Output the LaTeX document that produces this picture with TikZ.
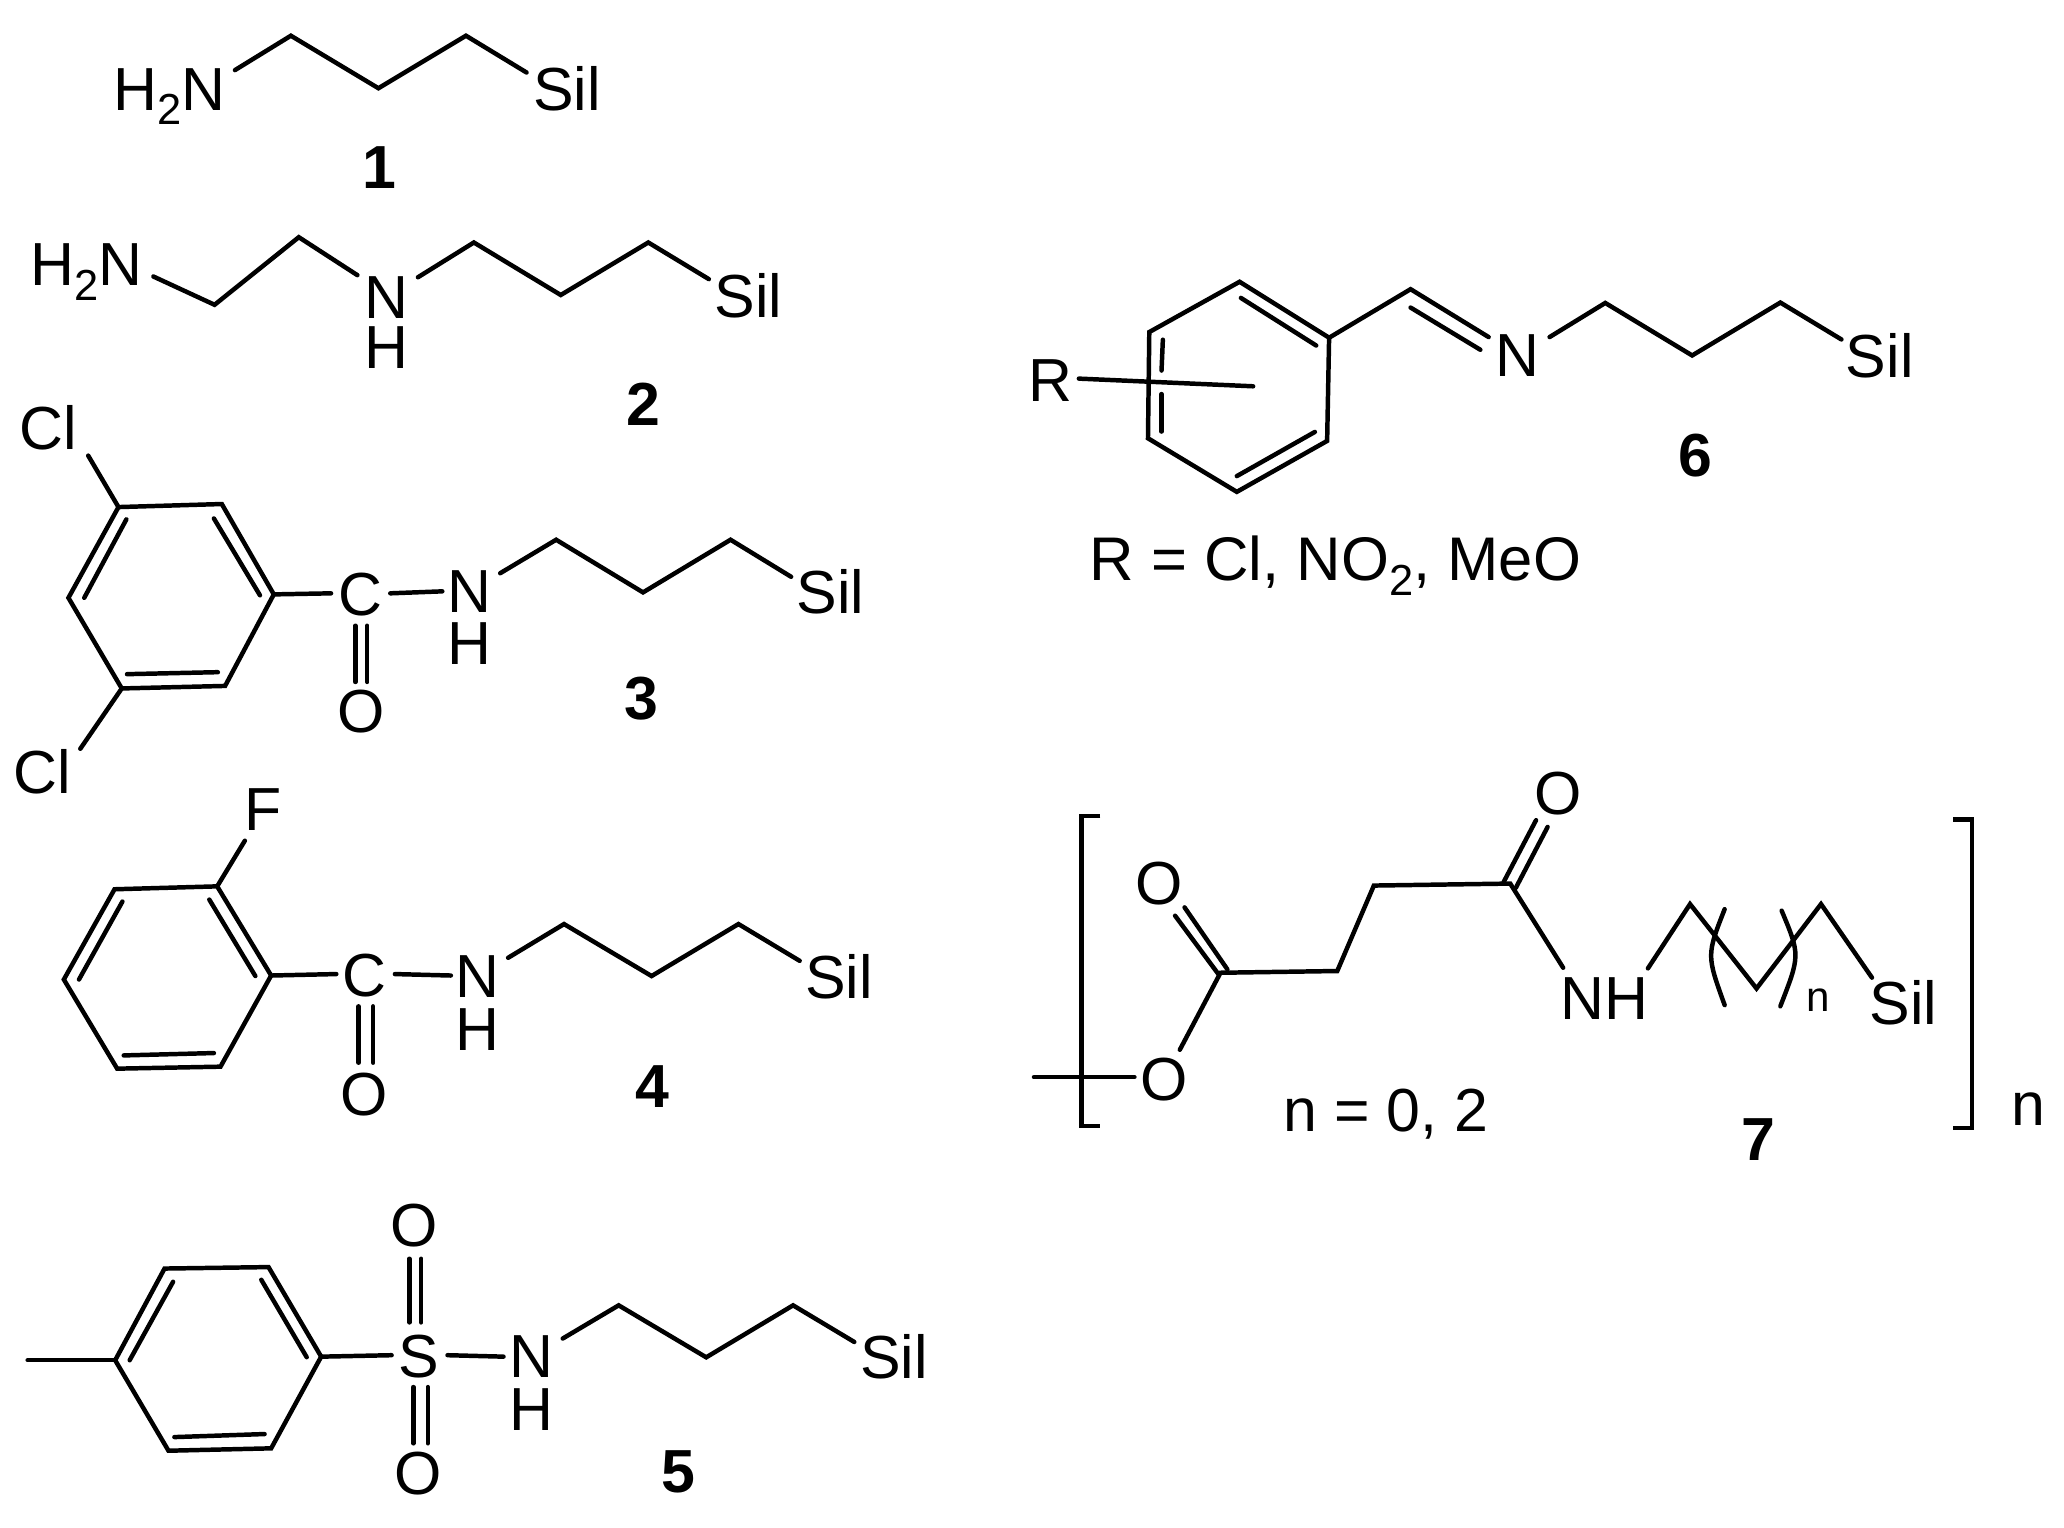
\documentclass[tikz,border=0pt]{standalone}
\usepackage{fontspec}
\setmainfont{Liberation Sans}
\newcommand{\subtwo}{\raisebox{-5.5pt}{\fontsize{16.5}{16.5}\selectfont 2}}
\newcommand{\pts}[1]{\foreach \n/\px/\py in {#1}{\coordinate (\n) at (\px,\py);}}
\tikzset{
  bond/.style={line width=1.7pt,line cap=round,line join=miter,black},
  lab/.style={anchor=base,inner sep=0pt,outer sep=0pt,font=\fontsize{23.1}{23.1}\selectfont,text=black},
  num/.style={anchor=base,inner sep=0pt,outer sep=0pt,font=\fontsize{23.1}{23.1}\selectfont\bfseries,text=black},
  small/.style={anchor=base,inner sep=0pt,outer sep=0pt,font=\fontsize{16}{16}\selectfont,text=black}
}
\begin{document}
\begin{tikzpicture}[x=0.5pt,y=-0.5025pt]
\useasboundingbox (0,0) rectangle (1568,1155);
% ---------- 1
\node[lab] (l1n) at (128.7,83.3) {H\subtwo N};
\node[lab] (l1s) at (430.7,83.3) {Sil};
\node[num] (l1) at (288,142.5) {1};
\pts{a1/178.5/53,a2/221/27,a3/287.5/66.7,a4/354/27,a5/400/54.8}
\draw[bond] (a1)--(a2)--(a3)--(a4)--(a5);
% ---------- 2
\node[lab] (l2n) at (66,216) {H\subtwo N};
\node[lab] (l2h1) at (293.7,240.7) {N};
\node[lab] (l2h2) at (293.7,278.5) {H};
\node[lab] (l2s) at (568.7,240) {Sil};
\node[num] (l2) at (489,322) {2};
\pts{b1/116.5/209,b2/163/230.4,b3/227/179.3,b4/271.5/208,b5/317.5/209.6,b6/360/183.3,b7/426/223,b8/492.5/183.3,b9/538.5/211}
\draw[bond] (b1)--(b2)--(b3)--(b4);
\draw[bond] (b5)--(b6)--(b7)--(b8)--(b9);
% ---------- 3
\node[lab] (l3c1) at (37,339.6) {Cl};
\node[lab] (l3c2) at (32,600) {Cl};
\node[lab] (l3c) at (273.7,465) {C};
\node[lab] (l3n) at (357,463) {N};
\node[lab] (l3h) at (357,502.6) {H};
\node[lab] (l3o) at (274,553.5) {O};
\node[lab] (l3s) at (631,463.7) {Sil};
\node[num] (l3) at (487.5,544) {3};
\pts{c1/90/383.3,c2/168.5/381,c3/208/449.3,c4/171/518.5,c5/92.5/520.4,c6/52/451.9,
  ci1/162.5/391.9,ci2/197.5/450,ci3/96/392.6,ci4/64/451.9,ci5/96.5/509.6,ci6/165.5/508.1,
  cc1/67/344.4,cc2/61/566,cb1/251.5/448.5,cb2/296.5/448.5,cb3/336/447,
  co1/270/473,co2/270/515.5,co3/279/473,co4/279/515.5,
  cn1/380/433.3,cn2/422.5/408,cn3/488.5/447.8,cn4/555/408,cn5/601/436}
\draw[bond] (c1)--(c2)--(c3)--(c4)--(c5)--(c6)--cycle;
\draw[bond] (ci1)--(ci2);
\draw[bond] (ci3)--(ci4);
\draw[bond] (ci5)--(ci6);
\draw[bond] (cc1)--(c1);
\draw[bond] (cc2)--(c5);
\draw[bond] (c3)--(cb1);
\draw[bond] (cb2)--(cb3);
\draw[bond] (co1)--(co2);
\draw[bond] (co3)--(co4);
\draw[bond] (cn1)--(cn2)--(cn3)--(cn4)--(cn5);
% ---------- 4
\node[lab] (l4f) at (200,627.4) {F};
\node[lab] (l4c) at (277,753.3) {C};
\node[lab] (l4n) at (362.5,753.7) {N};
\node[lab] (l4h) at (362.5,793.7) {H};
\node[lab] (l4o) at (277,843) {O};
\node[lab] (l4s) at (637.5,754.4) {Sil};
\node[num] (l4) at (495.5,837) {4};
\pts{d1/165/670,d2/87/672.2,d3/48.5/740.4,d4/89/807.8,d5/167.5/806.3,d6/206/737.4,
  di1/159/680,di2/194/737.8,di3/93/681.5,di4/60/740.4,di5/94/797.8,di6/162.5/796,
  df/186/635.5,db1/255.5/736.3,db2/300/736.3,db3/342.5/737.4,
  do1/272.5/760.7,do2/272.5/803.3,do3/283.5/760.7,do4/283.5/803.3,
  dn1/386/724,dn2/428.5/698.5,dn3/495/737.8,dn4/561/698.5,dn5/607.5/726.3}
\draw[bond] (d1)--(d2)--(d3)--(d4)--(d5)--(d6)--cycle;
\draw[bond] (di1)--(di2);
\draw[bond] (di3)--(di4);
\draw[bond] (di5)--(di6);
\draw[bond] (df)--(d1);
\draw[bond] (d6)--(db1);
\draw[bond] (db2)--(db3);
\draw[bond] (do1)--(do2);
\draw[bond] (do3)--(do4);
\draw[bond] (dn1)--(dn2)--(dn3)--(dn4)--(dn5);
% ---------- 5
\node[lab] (l5s1) at (318.5,1041.5) {S};
\node[lab] (l5n) at (404,1041.5) {N};
\node[lab] (l5h) at (404,1081) {H};
\node[lab] (l5o1) at (315,942) {O};
\node[lab] (l5o2) at (318,1130) {O};
\node[lab] (l5s) at (679,1042.2) {Sil};
\node[num] (l5) at (515,1128) {5};
\pts{e1/87.5/1028.2,e2/125/958.9,e3/204/957.8,e4/244/1025.5,e5/206/1094.8,e6/128/1096.6,
  ei1/131.5/968.9,ei2/98.5/1028.2,ei3/198.5/967.4,ei4/233/1025.9,ei5/132.5/1086.3,ei6/201/1084,
  em/21/1028.2,eb1/297.5/1024.4,eb2/340/1024.4,eb3/382.5/1025.5,
  eo1/311/951.5,eo2/311/999.6,eo3/320/951.5,eo4/320/999.6,
  ep1/314/1048.5,ep2/314/1091,ep3/325/1048.5,ep4/325/1091,
  en1/427.5/1011.8,en2/470/986.7,en3/536.5/1026,en4/602.5/986.7,en5/649/1014.4}
\draw[bond] (e1)--(e2)--(e3)--(e4)--(e5)--(e6)--cycle;
\draw[bond] (ei1)--(ei2);
\draw[bond] (ei3)--(ei4);
\draw[bond] (ei5)--(ei6);
\draw[bond] (em)--(e1);
\draw[bond] (e4)--(eb1);
\draw[bond] (eb2)--(eb3);
\draw[bond] (eo1)--(eo2);
\draw[bond] (eo3)--(eo4);
\draw[bond] (ep1)--(ep2);
\draw[bond] (ep3)--(ep4);
\draw[bond] (en1)--(en2)--(en3)--(en4)--(en5);
% ---------- 6
\node[lab] (l6r) at (798,303.4) {R};
\node[lab] (l6n) at (1153,284.7) {N};
\node[lab] (l6s) at (1428,285) {Sil};
\node[num] (l6) at (1288,360) {6};
\node[lab,font=\fontsize{23.4}{23.4}\selectfont] (l6t) at (1014.5,439) {R = Cl, NO\subtwo, MeO};
\begin{scope}[shift={(3.9,0)}]
\pts{f1/937.8/213,f2/1005.8/255.3,f3/1004.3/333.3,f4/935.7/371.8,f5/868.2/331.3,f6/869.2/251,
  fi1/938.8/225.2,fi2/996/261.2,fi3/995/326.5,fi4/935.7/359.9,fi5/879.5/256.8,fi6/878.5/280.1,fi7/878.5/297.9,fi8/878.5/326.2,
  fr1/815.7/286.2,fr2/948.1/292,fb1/1067.7/218.6,fb2/1127/254.8,fb3/1067.7/232.5,fb4/1120.7/264.4,
  fn1/1173.3/254.8,fn2/1215.6/229,fn3/1281.6/268.7,fn4/1348.6/228.7,fn5/1395/256.6}
\draw[bond] (f1)--(f2)--(f3)--(f4)--(f5)--(f6)--cycle;
\draw[bond] (fi1)--(fi2);
\draw[bond] (fi3)--(fi4);
\draw[bond] (fi5)--(fi6);
\draw[bond] (fi7)--(fi8);
\draw[bond] (fr1)--(fr2);
\draw[bond] (f2)--(fb1)--(fb2);
\draw[bond] (fb3)--(fb4);
\draw[bond] (fn1)--(fn2)--(fn3)--(fn4)--(fn5);
\end{scope}
% ---------- 7
\node[lab] (l7o1) at (884.4,832) {O};
\node[lab] (l7o2) at (880.9,683.5) {O};
\node[lab] (l7o3) at (1183.4,616) {O};
\node[lab] (l7nh) at (1219.2,770.7) {NH};
\node[lab] (l7s) at (1445.9,774.5) {Sil};
\node[small] (l7m) at (1381.4,764.4) {n};
\node[lab] (l7eq) at (1052.9,855.5) {n = 0, 2};
\node[num] (l7) at (1336,877) {7};
\node[lab] (l7n) at (1540.9,851) {n};
\begin{scope}[shift={(3.9,0)}]
\pts{g1/923.3/735.3,g2/1012/734,g3/1039.8/669.4,g4/1143.4/667.9,g5/1183.6/731.5,
  go/892.4/793.5,gl1/781.6/814.2,gl2/857.9/814.2,
  gd1/896/685.9,gd2/928.5/732.7,gd3/888.8/692.2,gd4/921.8/736.5,
  ge1/1163/620,ge2/1138.3/666.9,ge3/1171.8/625.1,ge4/1147.6/671.2,
  gn1/1248/732,gn2/1280/683.4,gn3/1330.5/747.2,gn4/1379.5/683.4,gn5/1418.2/739,
  pl1/1306.3/687.2,plc/1292.6/722,pl2/1306.3/759.8,pr1/1349.6/688.4,prc/1363.7/722,pr2/1348.6/760.6,
  bl1/832/617,bl2/817.7/617,bl3/817.7/851,bl4/832/851,
  br1/1480/619.3,br2/1494/619.3,br3/1494/852.5,br4/1480/852.5}
\draw[bond] (go)--(g1)--(g2)--(g3)--(g4)--(g5);
\draw[bond] (gl1)--(gl2);
\draw[bond] (gd1)--(gd2);
\draw[bond] (gd3)--(gd4);
\draw[bond] (ge1)--(ge2);
\draw[bond] (ge3)--(ge4);
\draw[bond] (gn1)--(gn2)--(gn3)--(gn4)--(gn5);
\draw[bond] (pl1) .. controls (plc) .. (pl2);
\draw[bond] (pr1) .. controls (prc) .. (pr2);
\draw[bond,line cap=butt] (bl1)--(bl2)--(bl3)--(bl4);
\draw[bond,line cap=butt] (br1)--(br2)--(br3)--(br4);
\end{scope}
\end{tikzpicture}
\end{document}
